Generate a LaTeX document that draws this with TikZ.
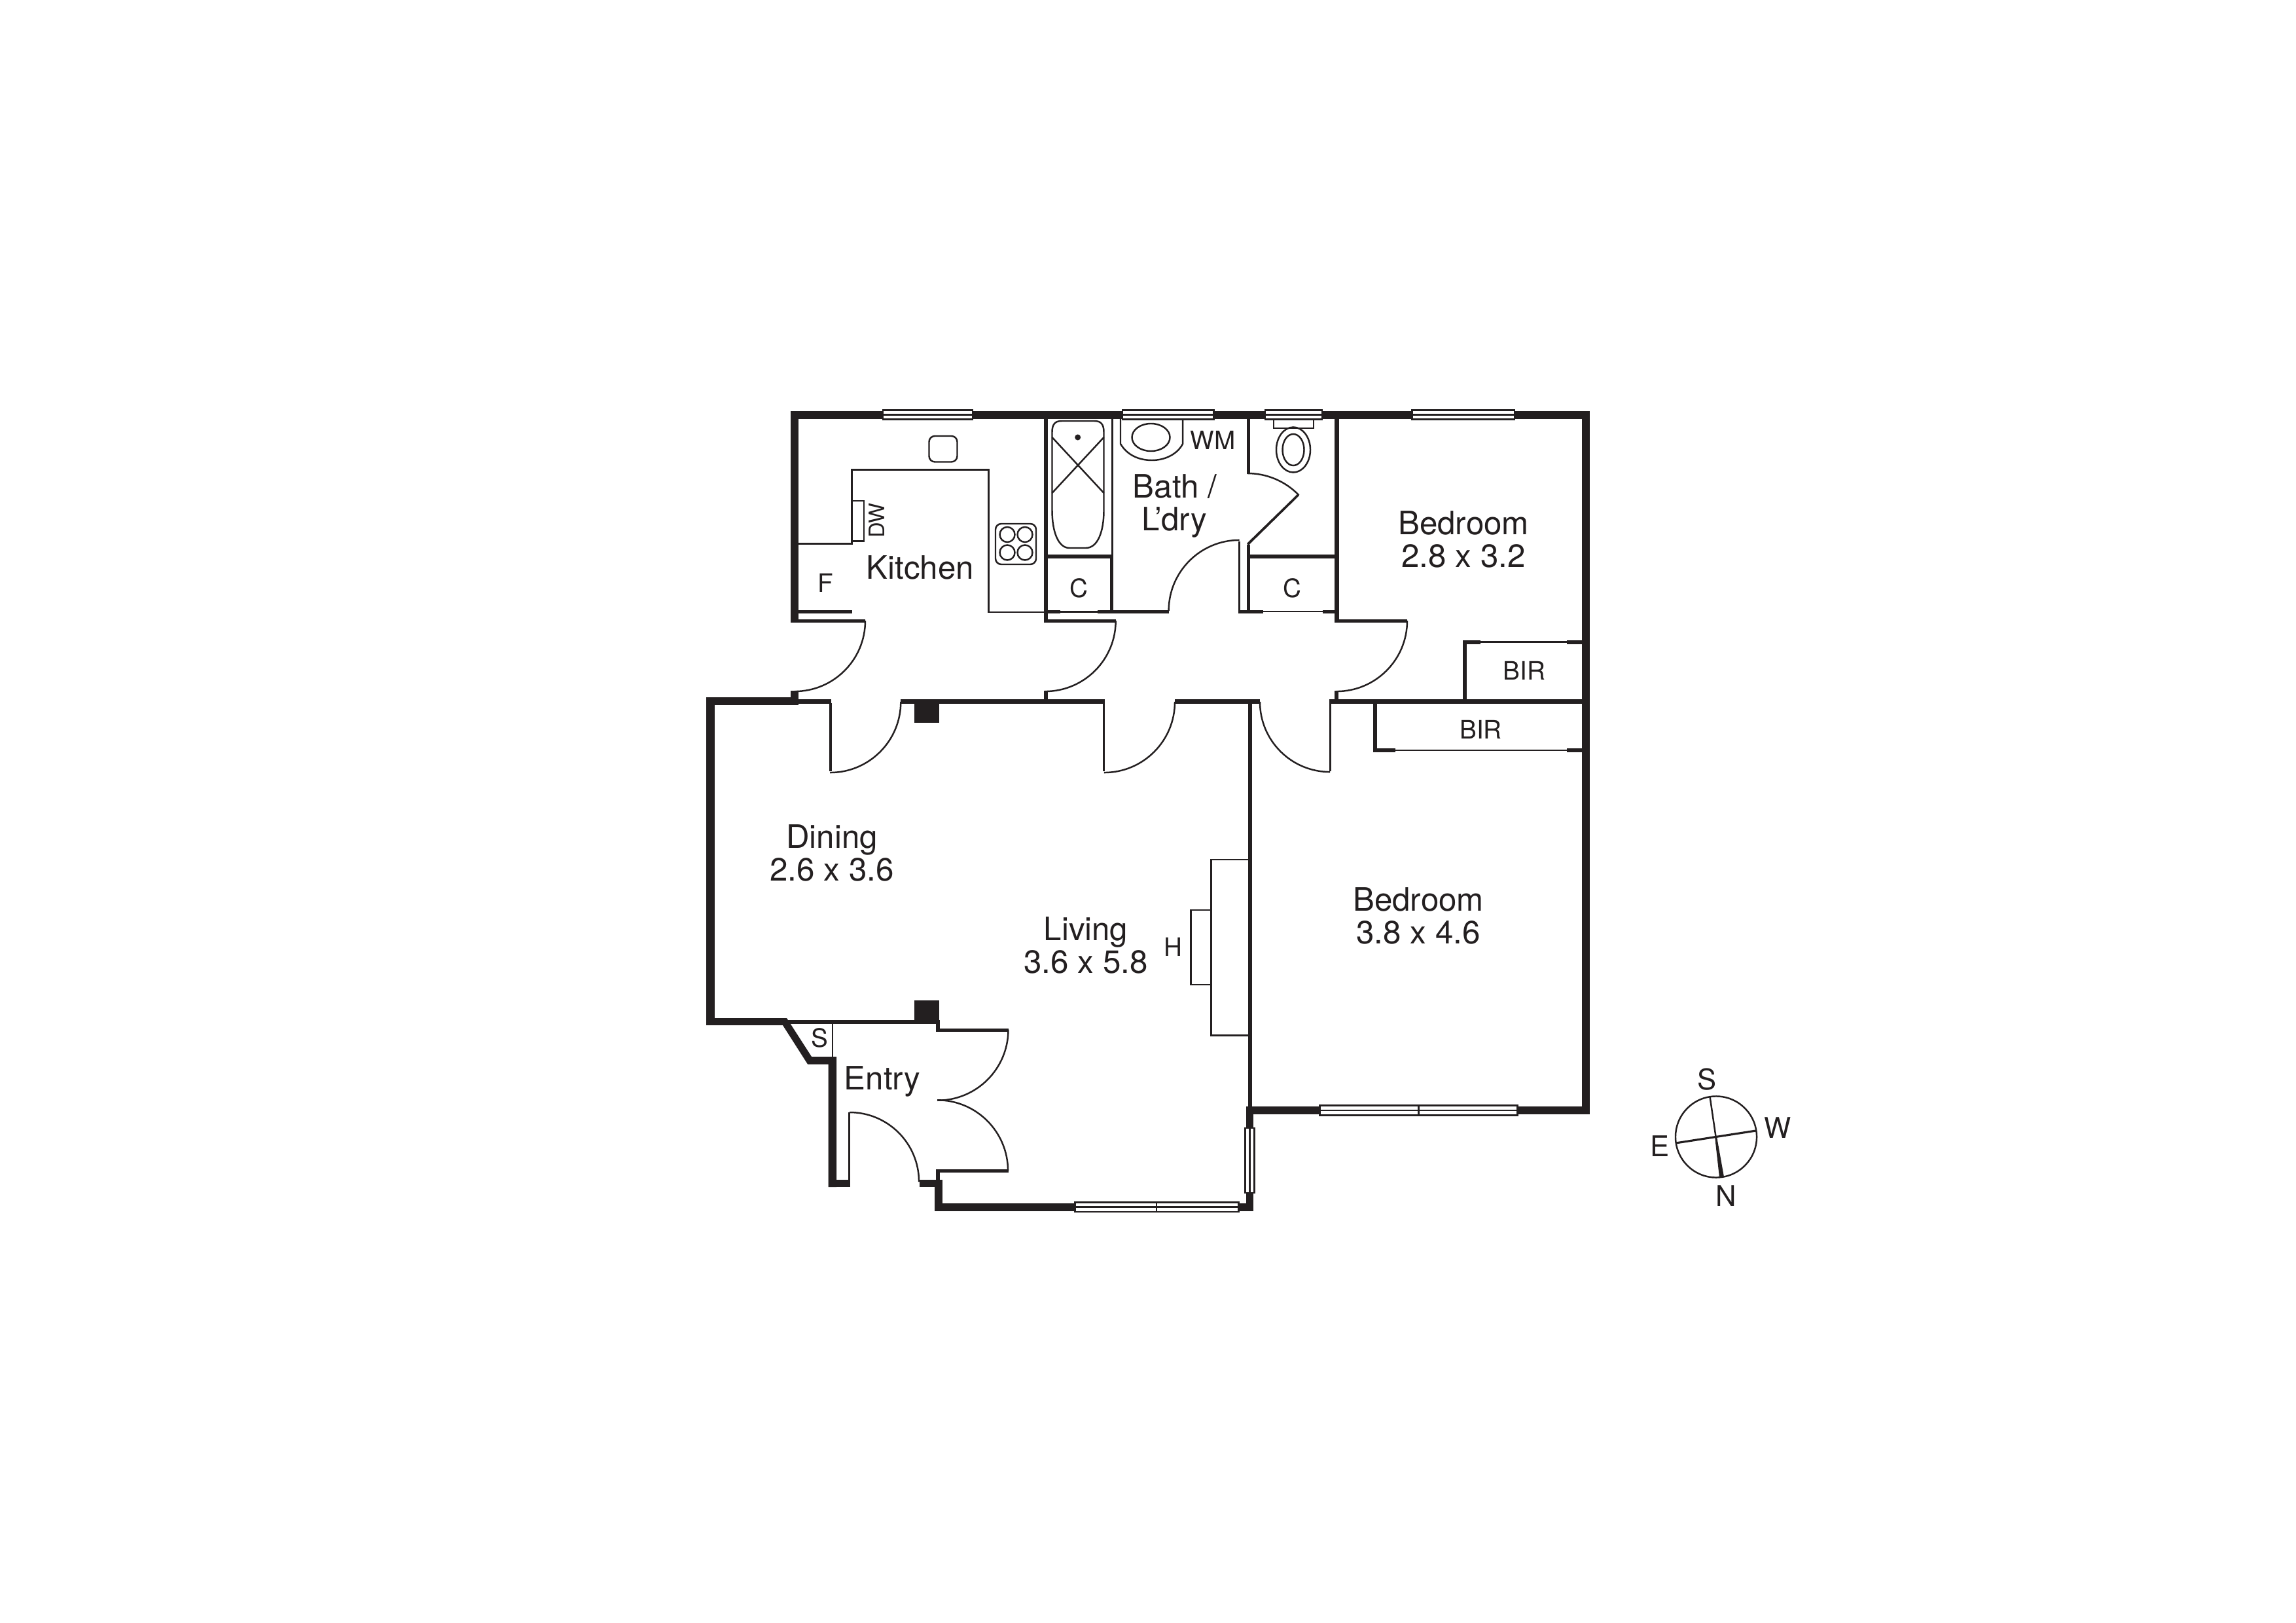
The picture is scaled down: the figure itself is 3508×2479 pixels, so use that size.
\documentclass[tikz,border=0pt]{standalone}
\usepackage{fontspec}
\setmainfont{TeX Gyre Heros}
\definecolor{plancol}{HTML}{231F20}
\tikzset{
	wall/.style={fill=plancol},
	thinline/.style={draw=plancol,line width=0.7pt},
	doorline/.style={draw=plancol,line width=0.7pt},
	windowpane/.style={draw=plancol,fill=white,line width=0.7pt},
	roomlabel/.style={anchor=base,inner sep=0pt,text=plancol,font=\fontsize{14}{16}\selectfont},
	smalllabel/.style={anchor=base,inner sep=0pt,text=plancol,font=\fontsize{11}{13}\selectfont},
	compasslabel/.style={anchor=base,inner sep=0pt,text=plancol,font=\fontsize{12.4}{14}\selectfont}
}
\begin{document}
\begin{tikzpicture}[x=0.01cm,y=-0.01cm]
	\useasboundingbox (0,0) rectangle (3508,2479);
	% outer walls
	\fill[wall] (1208,628) rectangle (2429,640);
	\fill[wall] (1208,628) rectangle (1220,950);
	\fill[wall] (2417,628) rectangle (2429,1702);
	\fill[wall] (1079,1065) rectangle (1220,1077);
	\fill[wall] (1079,1065) rectangle (1092,1566);
	\fill[wall] (1079,1555) rectangle (1202,1566);
	\fill[wall] (1196,1566) -- (1202,1555) -- (1240,1614) -- (1278,1614) -- (1278,1813) -- (1265.5,1813) -- (1265.5,1625.5) -- (1234,1625.5) -- cycle;
	\fill[wall] (1265.5,1802) rectangle (1299,1813);
	\fill[wall] (1404.5,1802) rectangle (1440,1813);
	\fill[wall] (1427.5,1802) rectangle (1440,1850);
	\fill[wall] (1427.5,1838) rectangle (1915,1850);
	\fill[wall] (1904,1690) rectangle (1915,1850);
	\fill[wall] (1904,1690) rectangle (2429,1702);
	% inner walls
	\fill[wall] (1220,932) rectangle (1302,937);
	\fill[wall] (1594.5,634) rectangle (1601,950);
	\fill[wall] (1601,847) rectangle (1701,852.5);
	\fill[wall] (1696,847) rectangle (1701,937);
	\fill[wall] (1601,932) rectangle (1620,937);
	\fill[wall] (1677,932) rectangle (1786,937);
	\fill[wall] (1892,932) rectangle (1929.5,937);
	\fill[wall] (1905,634) rectangle (1910,724);
	\fill[wall] (1905,832) rectangle (1910,937);
	\fill[wall] (1910,847) rectangle (2039,852.5);
	\fill[wall] (2020.5,932) rectangle (2039,937);
	\fill[wall] (2039,634) rectangle (2045.5,950);
	\fill[wall] (1220,1068) rectangle (1270,1074.5);
	\fill[wall] (1376,1068) rectangle (1688,1074.5);
	\fill[wall] (1795,1068) rectangle (1925,1074.5);
	\fill[wall] (2030.5,1068) rectangle (2417,1074.5);
	\fill[wall] (1907,1074) rectangle (1912.5,1690);
	\fill[wall] (1208,1055) rectangle (1220,1068);
	\fill[wall] (1594.5,1055) rectangle (1601,1068);
	\fill[wall] (2039,1055) rectangle (2045,1068);
	\fill[wall] (1202,1557.5) rectangle (1436,1563.5);
	\fill[wall] (1430,1557.5) rectangle (1436,1575);
	\fill[wall] (1430,1786) rectangle (1436,1802);
	% door leaves
	\fill[wall] (1208,946) rectangle (1322,950.5);
	\fill[wall] (1594.5,946) rectangle (1705,950.5);
	\fill[wall] (2039,946) rectangle (2150,950.5);
	\fill[wall] (1267,1074) rectangle (1270.5,1178);
	\fill[wall] (1685,1074) rectangle (1688,1178);
	\fill[wall] (2030.5,1074) rectangle (2034,1178);
	\fill[wall] (1892,827) rectangle (1895,932);
	\fill[wall] (1296,1699) rectangle (1299,1802);
	\fill[wall] (1430,1571) rectangle (1540.5,1575.5);
	\fill[wall] (1430,1786) rectangle (1540.5,1790.5);
	\fill[wall] (1905,830) -- (1982.5,754.5) -- (1985,757) -- (1907.5,833) -- cycle;
	% door swings
	\draw[doorline] (1322,948) arc[start angle=0,end angle=-90,radius=1.08cm];
	\draw[doorline] (1704.7,948) arc[start angle=0,end angle=-90,radius=1.08cm];
	\draw[doorline] (2150,948) arc[start angle=0,end angle=-90,radius=1.08cm];
	\draw[doorline] (1376.3,1072) arc[start angle=0,end angle=-90,radius=1.08cm];
	\draw[doorline] (1795,1072) arc[start angle=0,end angle=-90,radius=1.08cm];
	\draw[doorline] (1925,1072) arc[start angle=180,end angle=270,radius=1.07cm];
	\draw[doorline] (1785.6,933) arc[start angle=180,end angle=90,radius=1.08cm];
	\draw[doorline] (1906,723) arc[start angle=90,end angle=44,radius=1.09cm];
	\draw[doorline] (1540.5,1572.7) arc[start angle=0,end angle=-90,radius=1.08cm];
	\draw[doorline] (1432,1680.3) arc[start angle=90,end angle=0,radius=1.08cm];
	\draw[doorline] (1298,1699) arc[start angle=90,end angle=0,radius=1.06cm];
	% built in robes
	\fill[wall] (2235,978) rectangle (2241,1068);
	\fill[wall] (2235,978) rectangle (2262,984);
	\fill[wall] (2393.5,978) rectangle (2417,984);
	\draw[thinline] (2262,980.5) -- (2393.5,980.5);
	\fill[wall] (2098,1074) rectangle (2104,1149);
	\fill[wall] (2098,1143) rectangle (2132,1149);
	\fill[wall] (2393.5,1143) rectangle (2417,1149);
	\draw[thinline] (2132,1146) -- (2393.5,1146);
	% pillars
	\fill[wall] (1397,1072) rectangle (1434.5,1104);
	\fill[wall] (1397,1528) rectangle (1434.5,1558.5);
	% windows
	\draw[windowpane] (1349,626.5) rectangle (1486,640.5);
	\draw[thinline] (1349,633.5) -- (1486,633.5);
	\draw[windowpane] (1715,626.5) rectangle (1854.5,640.5);
	\draw[thinline] (1715,633.5) -- (1854.5,633.5);
	\draw[windowpane] (1933,626.5) rectangle (2020,640.5);
	\draw[thinline] (1933,633.5) -- (2020,633.5);
	\draw[windowpane] (2157.5,626.5) rectangle (2314,640.5);
	\draw[thinline] (2157.5,633.5) -- (2314,633.5);
	\draw[windowpane] (2016.5,1688.5) rectangle (2318.5,1703.5);
	\draw[thinline] (2016.5,1696) -- (2318.5,1696);
	\draw[thinline] (2167.5,1688.5) -- (2167.5,1703.5);
	\draw[windowpane] (1642.5,1836.5) rectangle (1892.5,1851);
	\draw[thinline] (1642.5,1843.5) -- (1892.5,1843.5);
	\draw[thinline] (1767,1836.5) -- (1767,1851);
	\draw[windowpane] (1902.5,1723) rectangle (1916.5,1822);
	\draw[thinline] (1909.5,1723) -- (1909.5,1822);
	% kitchen
	\draw[thinline] (1220,830.5) -- (1301.5,830.5) -- (1301.5,717.5) -- (1510.5,717.5) -- (1510.5,935) -- (1594.5,935);
	\draw[thinline] (1301.5,765) rectangle (1320,826.5);
	\draw[thinline,rounded corners=2.5pt] (1419.5,666) rectangle (1462.5,705.5);
	\draw[thinline,rounded corners=2.5pt] (1521,800) rectangle (1583,862);
	\draw[thinline] (1539,816.5) circle [radius=0.115cm];
	\draw[thinline] (1566,816.5) circle [radius=0.115cm];
	\draw[thinline] (1539,844) circle [radius=0.115cm];
	\draw[thinline] (1566,844) circle [radius=0.115cm];
	% bath and laundry
	\draw[thinline] (1699.5,640) -- (1699.5,847);
	\draw[thinline] (1607.5,660) .. controls (1607.5,648) and (1612,643) .. (1622,643) -- (1672,643) .. controls (1682,643) and (1686.5,648) .. (1686.5,660) -- (1686.5,780) .. controls (1686.5,810) and (1678,837) .. (1659,837) -- (1634,837) .. controls (1616,837) and (1607.5,810) .. (1607.5,780) -- cycle;
	\draw[thinline] (1607.5,668) -- (1686.5,753);
	\draw[thinline] (1686.5,668) -- (1607.5,753);
	\fill[wall] (1646.7,668) circle [radius=0.045cm];
	\draw[thinline] (1712,640) -- (1712,678) .. controls (1722,695) and (1740,703) .. (1760,703) .. controls (1782,703) and (1800,692) .. (1807,678) -- (1807,640);
	\draw[thinline] (1758.5,668) ellipse [x radius=0.29cm,y radius=0.21cm];
	% toilet
	\draw[thinline] (1946,641) rectangle (2007,654);
	\draw[thinline] (1976,687) ellipse [x radius=0.26cm,y radius=0.345cm];
	\draw[thinline] (1976,687) ellipse [x radius=0.165cm,y radius=0.24cm];
	% closet doors and store
	\draw[thinline] (1620,934.5) -- (1677,934.5);
	\draw[thinline] (1929.5,934) -- (2020.5,934);
	\draw[thinline] (1272,1563) -- (1272,1614);
	% heater
	\draw[thinline] (1908,1313) -- (1850.5,1313) -- (1850.5,1581.5) -- (1908,1581.5);
	\draw[thinline] (1850.5,1390) -- (1819.5,1390) -- (1819.5,1504) -- (1850.5,1504);
	% labels
	\draw (1406,884) node[roomlabel] (kitchen) {Kitchen};
	\draw (1795,760) node[roomlabel] (bath) {Bath /};
	\draw (1794,810.5) node[roomlabel] (laundry) {L’dry};
	\draw (2236,816) node[roomlabel] (bedroomone) {Bedroom};
	\draw (2236,866.5) node[roomlabel] (bedroomonesize) {2.8 x 3.2};
	\draw (2167,1391) node[roomlabel] (bedroomtwo) {Bedroom};
	\draw (2167,1441) node[roomlabel] (bedroomtwosize) {3.8 x 4.6};
	\draw (1271,1295) node[roomlabel] (dining) {Dining};
	\draw (1271,1345) node[roomlabel] (diningsize) {2.6 x 3.6};
	\draw (1659,1436) node[roomlabel] (living) {Living};
	\draw (1659,1486) node[roomlabel] (livingsize) {3.6 x 5.8};
	\draw (1348,1664) node[roomlabel] (entry) {Entry};
	\draw (1853,686) node[smalllabel] (wm) {WM};
	\draw (1261,904) node[smalllabel] (fridge) {F};
	\draw (1648,912) node[smalllabel] (closetone) {C};
	\draw (1974.5,912) node[smalllabel] (closettwo) {C};
	\draw (2329,1038) node[smalllabel] (robeone) {BIR};
	\draw (2262.5,1128) node[smalllabel] (robetwo) {BIR};
	\draw (1792,1460) node[smalllabel] (heater) {H};
	\draw (1252,1599) node[smalllabel] (store) {S};
	\draw (1339.5,795) node[smalllabel,anchor=center,rotate=90,font=\fontsize{9.3}{11}\selectfont] (dishwasher) {DW};
	% compass
	\coordinate (compass) at (2621.5,1736);
	\draw[thinline] (2622,1736.5) circle [radius=0.62cm];
	\draw[thinline] (compass) -- (2612.5,1675);
	\draw[thinline,line width=0.9pt] (2560,1746) -- (2683,1727);
	\fill[wall] (2620,1736) -- (2623,1736) -- (2634,1797.5) -- (2627,1798.5) -- cycle;
	\draw (2608.5,1664) node[compasslabel] (south) {S};
	\draw (2716,1738) node[compasslabel] (west) {W};
	\draw (2536,1766.5) node[compasslabel] (east) {E};
	\draw (2637,1842.5) node[compasslabel] (north) {N};
\end{tikzpicture}
\end{document}
